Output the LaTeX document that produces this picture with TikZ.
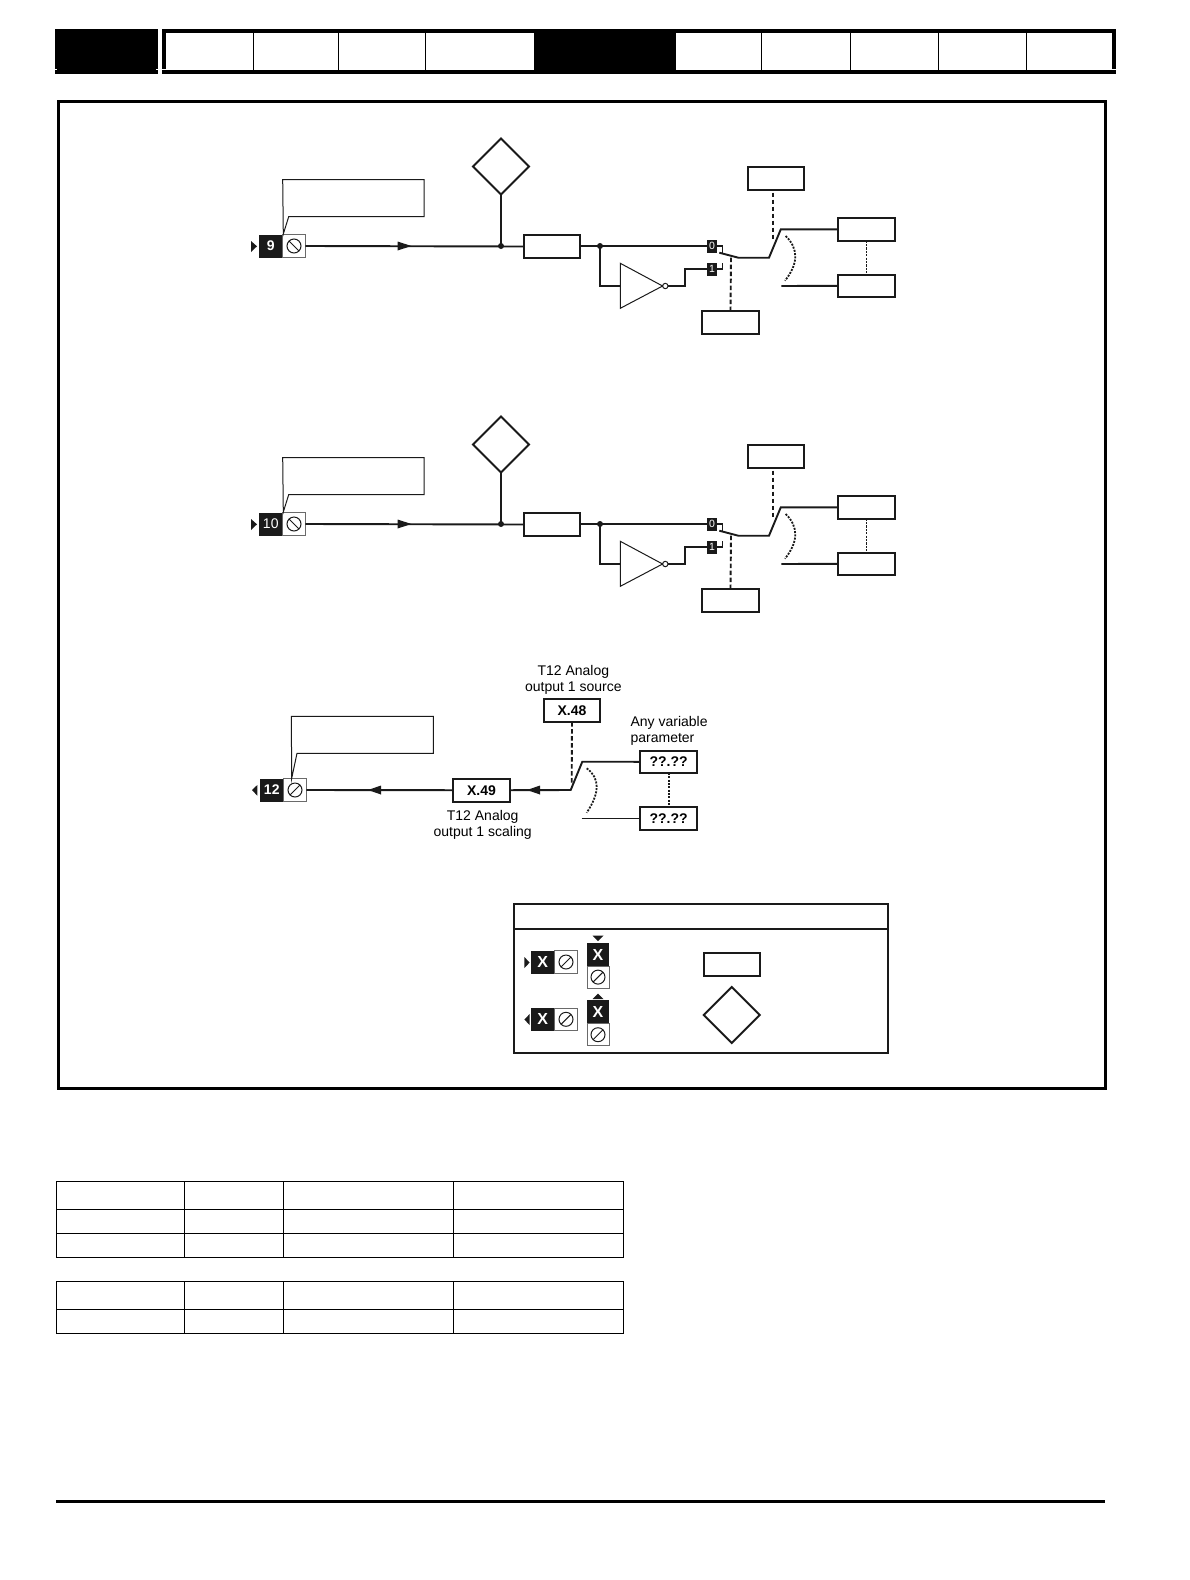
\documentclass[tikz,border=0pt]{standalone}
\usepackage{fontspec}
\setmainfont{Liberation Sans}
\usetikzlibrary{shapes.geometric,calc}
\definecolor{ink}{HTML}{1A1A1A}
\definecolor{tgrey}{HTML}{6A6A6A}
\newcommand\fsz[1]{\fontsize{#1}{16}\selectfont}
\tikzset{
  x=1pt,y=-1pt,
  wire/.style={line width=1.9pt,draw=ink},
  thinwire/.style={line width=1.3pt,draw=ink},
  hair/.style={line width=1pt,draw=ink},
  dashwire/.style={line width=1.9pt,draw=ink,dash pattern=on 4.5pt off 2.5pt},
  dotarc/.style={line width=1.8pt,draw=ink,dash pattern=on 2pt off 1.3pt},
  dotthin/.style={line width=1pt,draw=ink,dash pattern=on 2.2pt off 1.2pt},
  dotmid/.style={line width=1.8pt,draw=ink,dash pattern=on 2pt off 1.3pt},
  pbox/.style={draw=ink,line width=2pt,fill=white,rectangle,inner sep=0pt,outer sep=0pt,minimum width=56.5pt,minimum height=22.6pt,font=\fsz{14}\bfseries},
  pdia/.style={draw=ink,line width=2pt,fill=white,diamond,aspect=1,inner sep=0pt,outer sep=0pt,minimum width=56pt,minimum height=56pt},
  tblk/.style={fill=ink,rectangle,inner sep=0pt,outer sep=0pt,text=white,font=\fsz{14}\bfseries},
  tscr/.style={draw=tgrey,line width=1pt,fill=white,rectangle,inner sep=0pt,outer sep=0pt},
  sbox/.style={fill=ink,rectangle,inner sep=0pt,outer sep=0pt,minimum width=10pt,minimum height=13pt,text=white,font=\fsz{10.5}},
  bubble/.style={circle,draw=ink,line width=1pt,fill=white,inner sep=0pt,outer sep=0pt,minimum size=5.4pt},
  dot/.style={circle,fill=ink,inner sep=0pt,minimum size=6pt},
  lab/.style={inner sep=0pt,align=center,font=\fsz{14}},
  labl/.style={inner sep=0pt,align=left,font=\fsz{14}},
  gridline/.style={line width=1.1pt,draw=black},
  frameline/.style={line width=3pt,draw=black},
}
% horizontal terminal: name, left x of black part, centre y, text, slash sign
\newcommand\hterm[5]{%
  \begin{scope}[shift={(#2,#3)}]
    \node[tblk,minimum width=23.5pt,minimum height=23pt] (#1b) at (11.75,0) {#4};
    \node[tscr,minimum width=22.5pt,minimum height=22.5pt] (#1s) at (35,0) {};
    \draw[hair] (35,0) circle (7);
    \draw[hair] (30,{-5*#5}) -- (40,{5*#5});
  \end{scope}}
% vertical terminal: name, centre x, top y of black part, text
\newcommand\vterm[4]{%
  \begin{scope}[shift={(#2,#3)}]
    \node[tblk,minimum width=22.7pt,minimum height=23.6pt] (#1b) at (0,11.8) {#4};
    \node[tscr,minimum width=22pt,minimum height=22pt] (#1s) at (0,34.4) {};
    \draw[hair] (0,34.4) circle (7);
    \draw[hair] (-5,39.4) -- (5,29.4);
  \end{scope}}
% right-pointing mid-line arrow head, left-pointing likewise
\newcommand\arrR[2]{\fill[ink] (#1,#2-4.5) -- (#1+14,#2) -- (#1,#2+4.5) -- cycle;}
\newcommand\arrL[2]{\fill[ink] (#1,#2-4.5) -- (#1-13,#2) -- (#1,#2+4.5) -- cycle;}
\newcommand\inputblock[3]{%
  \begin{scope}[shift={(0,#1)}]
    \hterm{t#2}{259}{246}{#3}{1}
    \fill[ink] (251,241) -- (257,246.3) -- (251,252) -- cycle;
    \draw[hair] (283.3,234) -- (282.7,179.5) -- (424,179.5) -- (424,216.7) -- (288.7,216.7) -- cycle;
    \node[pdia] (d#2) at (501,166.5) {};
    \node[pbox] (f#2) at (552,246.5) {};
    \node[pbox] (top#2) at (776,178.3) {};
    \node[pbox] (a#2) at (866.3,229.3) {};
    \node[pbox] (b#2) at (866.3,285.8) {};
    \node[pbox] (sel#2) at (730.5,322.6) {};
    \node[sbox] (zero#2) at (712,246.3) {0};
    \node[sbox] (one#2) at (712,269) {1};
    \coordinate (j#2) at (501,246);
    \coordinate (k#2) at (600,246);
    \coordinate (invin#2) at (620.3,286);
    \coordinate (sw#2) at (738.3,257.7);
    \coordinate (tip#2) at (780.8,229.3);
    \coordinate (open#2) at (781.3,286);
    \node[bubble] (inv#2) at (665.3,286) {};
    \draw[wire] (t#2s.east) -- (f#2.west);
    \arrR{397.5}{246}
    \draw[wire] (d#2.south) -- (j#2);
    \node[dot] at (j#2) {};
    \draw[wire] (f#2.east |- k#2) -- (zero#2.west |- k#2);
    \node[dot] at (k#2) {};
    \draw[wire] (k#2) -- (600,286) -- (invin#2);
    \draw[hair] (620.3,263.3) -- (662.6,286) -- (620.3,308.3) -- cycle;
    \draw[wire] (inv#2.east) -- (685,286) -- (685,269) -- (one#2.west);
    \draw[thinwire] (zero#2.east |- k#2) -- (722.7,246) -- (722.7,252.7);
    \draw[thinwire] (one#2.east) -- (722.7,269) -- (722.7,263.3);
    \draw[wire] (719.3,252.7) -- (sw#2) -- (769,257.7) -- (tip#2) -- (a#2.west);
    \draw[wire] (open#2) -- (b#2.west);
    \draw[dotthin] (a#2.south) -- (b#2.north);
    \draw[dashwire] (772.7,192.7) -- (772.7,241.7);
    \draw[dashwire] (731,257.7) -- (sel#2.north);
    \draw[dotarc] (785.7,236) .. controls (798.7,248.7) and (798.5,263.6) .. (785,280.7);
  \end{scope}}
\begin{document}
\begin{tikzpicture}
\useasboundingbox (0,0) rectangle (1190,1580);
\fill[white] (0,0) rectangle (1190,1580);
% header bar
\fill[black] (55,29) rectangle (158,74);
\fill[white] (55,68.6) rectangle (56.8,69.6);
\fill[white] (156.4,68.6) rectangle (158,69.6);
\fill[black] (162,29) rectangle (1116,74);
\fill[white] (166.4,33) rectangle (534,70);
\fill[white] (675.8,33) rectangle (1112,70);
\fill[white] (162,68.6) rectangle (166.4,69.6);
\fill[white] (1112,68.6) rectangle (1116,69.8);
\foreach \xx in {253.2,338.2,425.7,761.2,850.3,938.5,1026.3}
  \draw[line width=1pt,draw=black] (\xx,33) -- (\xx,70);
% frame
\draw[frameline] (58.5,101.5) rectangle (1105.4,1088.7);
% input blocks
\inputblock{0}{A}{9}
\inputblock{278}{B}{\mdseries 10}
% output block
\hterm{tc}{260}{790}{12}{-1}
\fill[ink] (257.3,785) -- (252,790) -- (257.3,795.7) -- cycle;
\draw[hair] (291.7,778.3) -- (291.3,716.3) -- (433.3,716.3) -- (433.3,753.3) -- (297,753.3) -- cycle;
\node[pbox] (scale) at (481.5,790.2) {X.49};
\node[pbox] (src) at (572,710.7) {X.48};
\node[pbox] (pa) at (668.6,761.8) {??.??};
\node[pbox] (pb) at (668.6,818.5) {??.??};
\coordinate (swc) at (570.7,790);
\coordinate (tipc) at (582.3,761.7);
\coordinate (openc) at (581.7,818.5);
\draw[wire] (tcs.east |- swc) -- (scale.west);
\draw[wire] (scale.east) -- (swc) -- (tipc) -- (pa.west);
\draw[wire] (openc) -- (pb.west);
\arrL{381}{790}
\arrL{540}{790}
\draw[dashwire] (src.south) -- (571.7,783);
\draw[dotmid] (pa.south) -- (pb.north);
\draw[dotarc] (586.7,768.3) .. controls (600,778) and (600,792.8) .. (586.7,812.7);
\node[lab] at (573.3,679.5) {T12 Analog\\output 1 source};
\node[labl,anchor=west] at (630.4,730.5) {Any variable\\parameter};
\node[lab] at (482.7,825) {T12 Analog\\output 1 scaling};
% key
\node[draw=ink,line width=1.9pt,rectangle,inner sep=0pt,outer sep=0pt,minimum width=374.6pt,minimum height=148.4pt] (key) at (701,978.5) {};
\draw[line width=1.7pt,draw=ink] (key.west |- 0,928.7) -- (key.east |- 0,928.7);
\hterm{k1}{531}{962}{\fsz{16}X}{-1}
\fill[ink] (524.3,957) -- (529.7,962.5) -- (524.3,968) -- cycle;
\hterm{k2}{531}{1019.3}{\fsz{16}X}{-1}
\fill[ink] (529.7,1014) -- (524.3,1019.5) -- (529.7,1025) -- cycle;
\vterm{k3}{598}{942.7}{\fsz{16}X}
\fill[ink] (592.5,935.7) -- (603.5,935.7) -- (598,941) -- cycle;
\vterm{k4}{598}{1000.3}{\fsz{16}X}
\fill[ink] (592.5,999) -- (603.5,999) -- (598,993.7) -- cycle;
\node[pbox] (kr) at (731.8,964.5) {};
\node[pdia] (kd) at (731.8,1015) {};
% tables
\foreach \xx in {56.5,184.7,283.4,453.7,623.6} {
  \draw[gridline] (\xx,1181.3) -- (\xx,1257.3);
  \draw[gridline] (\xx,1281.3) -- (\xx,1333.3);
}
\foreach \yy in {1181.3,1209.3,1233.3,1257.3,1281.3,1309.3,1333.3}
  \draw[gridline] (56,\yy) -- (624.1,\yy);
% foot rule
\fill[black] (56,1499.8) rectangle (1105,1502.8);
\end{tikzpicture}
\end{document}
